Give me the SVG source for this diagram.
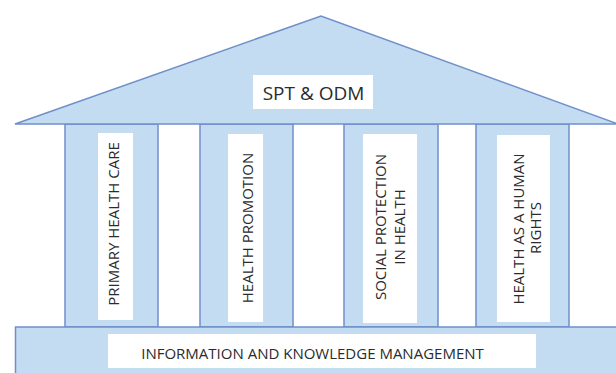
<svg xmlns="http://www.w3.org/2000/svg" width="616" height="373" viewBox="0 0 616 373">
<style>
.shape{fill:#c4dcf2;stroke:#6f8fc9;stroke-width:1.5}
.label{fill:#ffffff;stroke:none}
.t{font-family:"Open Sans","Liberation Sans",sans-serif;fill:#2b2b2b;font-size:15px;text-anchor:middle}
</style>
<rect width="616" height="373" fill="#ffffff"/>
<g id="pillar-1">
<rect class="shape" x="65" y="124" width="93" height="203"/>
<rect class="label" x="98" y="133" width="35" height="187"/>
<text class="t" transform="translate(118.5,224) rotate(-90)">PRIMARY HEALTH CARE</text>
</g>
<g id="pillar-2">
<rect class="shape" x="200" y="124" width="93" height="203"/>
<rect class="label" x="228" y="134" width="35" height="188"/>
<text class="t" transform="translate(252.5,228) rotate(-90)">HEALTH PROMOTION</text>
</g>
<g id="pillar-3">
<rect class="shape" x="344" y="124" width="94" height="203"/>
<rect class="label" x="363" y="134" width="54" height="189"/>
<text class="t" transform="translate(385.5,227) rotate(-90)">SOCIAL PROTECTION</text>
<text class="t" transform="translate(404.5,227) rotate(-90)">IN HEALTH</text>
</g>
<g id="pillar-4">
<rect class="shape" x="476" y="124" width="93" height="203"/>
<rect class="label" x="497" y="135" width="53" height="187"/>
<text class="t" transform="translate(523.5,229) rotate(-90)">HEALTH AS A HUMAN</text>
<text class="t" transform="translate(540.5,228) rotate(-90)">RIGHTS</text>
</g>
<g id="base">
<rect class="shape" x="15.5" y="327" width="610" height="52"/>
<rect class="label" x="108" y="334" width="428" height="34"/>
<text class="t" x="312.5" y="359">INFORMATION AND KNOWLEDGE MANAGEMENT</text>
</g>
<g id="roof">
<polygon class="shape" points="15,124 321,16 618,124"/>
<rect class="label" x="253" y="75" width="120" height="34"/>
<text class="t" x="313.5" y="99.5" style="font-size:19px">SPT &amp; ODM</text>
</g>
<g id="connectors"/>
</svg>
